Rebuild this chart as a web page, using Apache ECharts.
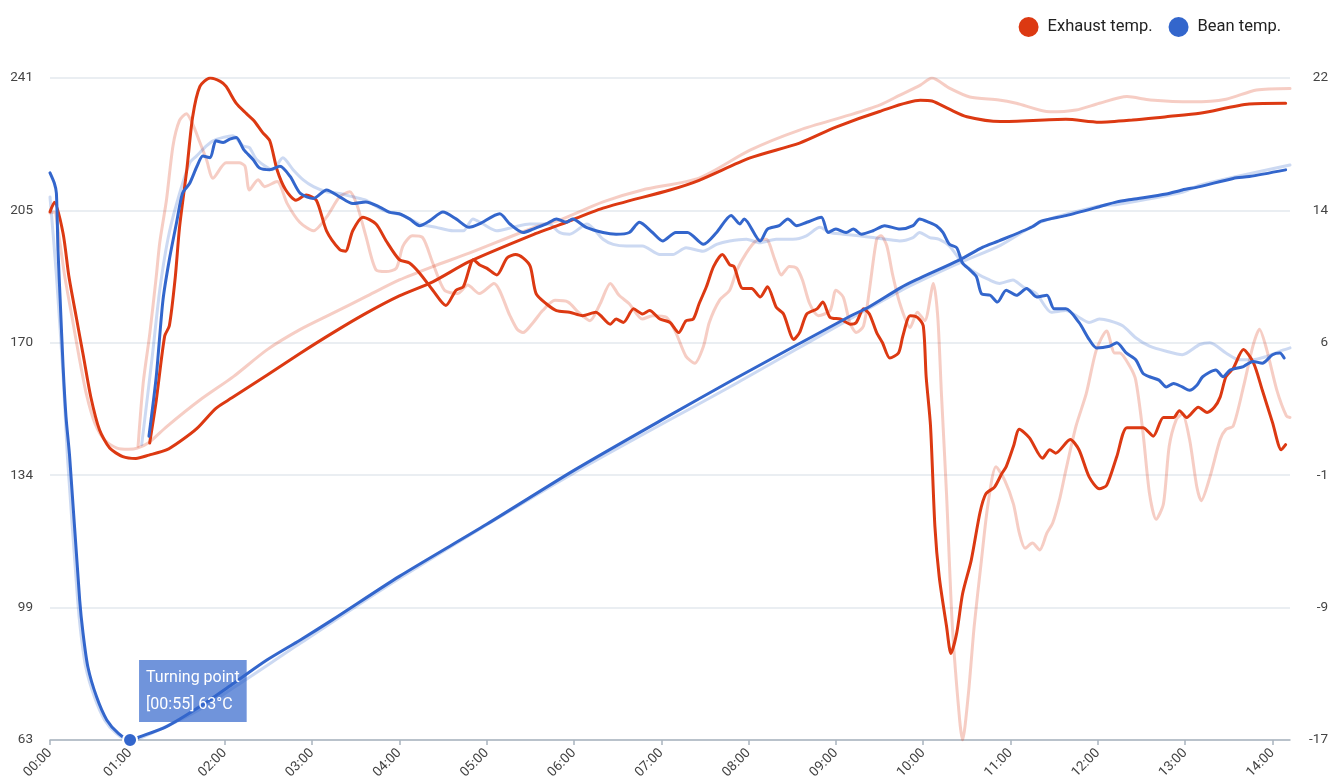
<!DOCTYPE html>
<html>
<head>
<meta charset="utf-8">
<script src="https://cdn.jsdelivr.net/npm/echarts@6/dist/echarts.min.js"></script>
<style>
html,body{margin:0;padding:0;background:#fff;}
#chart{width:1331px;height:783px;}
</style>
</head>
<body>
<div id="chart"></div>
<script>
// ---- data: [seconds, value] ----
const exhaustTemp = [[0,205],[3,207.6],[9,199.2],[13,187.6],[18,176.8],[23,166.1],[28,155.3],[34,146.4],[41,141.5],[50,139.2],[59,138.7],[68,139.6],[80,141],[89,143.2],[101,146.8],[114,152.2],[125,155],[149,161.1],[172,167],[194,172.4],[217,177.7],[240,182.4],[263,186.2],[288,191.6],[334,199.2],[350,201.5],[380,206],[426,210.9],[446,213.5],[481,219.5],[515,223.5],[540,227.8],[570,232],[598,235],[606,234.8],[618,232.6],[630,230.6],[653,229.3],[698,229.9],[721,229.1],[744,229.7],[767,230.6],[790,231.5],[824,234],[849,234.2]];

const beanTemp = [[0,215.5],[3,212.7],[4.4,210],[5.5,194.7],[7,181.3],[9,163.4],[11,149.9],[13.5,139.2],[20.4,100.6],[22.7,91.7],[26,82.7],[32,74.6],[39,68.4],[47,64.8],[55,63],[62,63.9],[80,66.6],[103,72],[126,78.2],[149,84.5],[172,89.9],[194,95.3],[240,107],[300,121],[360,135.5],[420,149],[469,159.8],[549,176.8],[563,179.5],[584,184.5],[595,186.7],[625,192.1],[641,195.5],[652,197.2],[675,201],[681,202.5],[698,204],[721,206.4],[733,207.7],[744,208.4],[767,209.8],[778,210.9],[790,211.8],[813,214],[824,214.5],[849,216.3]];

const exhaustTempRef = [[0,204.7],[3,205],[6,199],[10,188],[15,177],[20,166],[25,156],[31,148],[38,143.5],[46,141.5],[54,141.2],[60,141.5],[68,143],[80,147.2],[103,154.4],[126,160.7],[149,167.9],[172,173.4],[194,177.7],[217,182.2],[240,186.7],[263,190.3],[288,193.9],[334,201],[350,202.8],[380,207.7],[407,210.9],[446,214.1],[481,221.6],[515,227],[549,231],[570,233.7],[584,236.4],[598,239.1],[606,241],[618,238.3],[632,235.9],[652,235.1],[664,234.2],[687,231.9],[705,232.4],[721,234.2],[740,236],[756,235.1],[785,234.6],[808,235.3],[829,237.8],[852,238.2]];

const beanTempRef = [[0,209],[4.4,188],[9,161],[12,139],[19,100.6],[21.2,91.7],[24.5,82.7],[30.5,74.6],[37.5,68.4],[45.5,64.8],[54,63],[62,63.5],[103,71.3],[172,89],[240,106.4],[360,134.8],[472,159],[584,183.7],[625,191.3],[653,196],[681,202.3],[721,206.6],[733,207],[778,210.3],[790,212.2],[852,217.6]];

const exhaustRoR = [[68.5,0.5],[73,3],[78.8,6.8],[82,7.4],[86,10.2],[89,13.2],[94,16.6],[98,19.7],[103,21.5],[110,22],[117,21.8],[121,21.5],[128,20.5],[135,19.9],[140,19.5],[146,18.8],[151,18.3],[156,16.6],[162,15.4],[169,14.8],[176,15.1],[183,14.8],[190,13],[199,11.9],[203,11.8],[208,13],[215,13.8],[224,13.4],[231,12.4],[240,11.3],[247,11.1],[254,10.5],[263,9.5],[272,8.6],[279,9.5],[284,9.7],[291,11.3],[295,11],[300,10.8],[307,10.4],[314,11.4],[320,11.6],[325,11.4],[330,10.9],[334,9.3],[341,8.7],[348,8.3],[357,8.2],[366,8],[375,8.2],[385,7.5],[389,7.8],[394,7.6],[401,8.4],[407,8.1],[412,8.3],[419,7.8],[426,7.6],[432,7],[437,7.7],[442,7.8],[446,8.7],[451,9.7],[456,10.9],[462,11.6],[467,11],[470,10.9],[476,9.6],[482,9.6],[488,9.1],[493,9.7],[499,8.5],[504,8.1],[511,6.6],[515,7],[520,8.1],[527,8.4],[531,8.8],[536,7.9],[543,7.8],[550,7.5],[554,7.6],[559,8.4],[563,8.1],[568,7],[572,6.4],[577,5.5],[583,5.8],[586,6.8],[591,8],[596,7.9],[600,7.4],[602,4.4],[605,1.5],[608,-4.4],[611,-7.4],[616,-10.3],[619,-11.9],[623,-10.7],[627,-8.4],[633,-6.4],[639,-3.6],[643,-2.5],[649,-2.1],[654,-1.3],[657,-0.9],[662,0.3],[666,1.3],[673,0.8],[682,-0.4],[687,0.1],[691,-0.1],[701,0.7],[707,0.1],[714,-1.5],[721,-2.2],[726,-2],[733,-0.3],[740,1.4],[751,1.4],[758,0.9],[765,2],[772,2],[776,2.4],[781,2],[789,2.6],[795,2.3],[800,2.6],[804,3.2],[808,4.4],[813,4.9],[820,6],[827,5.2],[833,3.6],[840,1.7],[846,0.1],[849,0.4]];

const beanRoR = [[68,0.9],[73,4.4],[77.6,8.9],[82,11.3],[87,13.5],[91,15.2],[96,15.8],[101,16.8],[105,17.4],[110,17.3],[114,18.3],[119,18.2],[123.5,18.4],[128,18.5],[133,17.8],[139.5,17.2],[144,16.7],[151,16.6],[158,16.8],[165,16.2],[172,15.2],[181,14.9],[190,15.4],[199,15],[208,14.6],[217,14.7],[226.5,14.4],[233,14.1],[240,14],[247,13.7],[254,13.3],[261,13.6],[270,14.1],[279,13.7],[288,13.2],[295,13.4],[309,14],[316,13.4],[325,12.9],[332,13.1],[341,13.4],[348,13.7],[355,13.5],[359,13.7],[368.5,13.2],[380,12.9],[389,12.8],[398,12.9],[405,13.5],[414,12.9],[421,12.4],[430,12.9],[438,12.9],[449,12.2],[458,12.9],[468,13.9],[474,13.4],[477,13.7],[488,12.4],[493,13.1],[501,13.3],[507,13.7],[513,13.3],[520,13.5],[530,13.8],[534.5,12.9],[540,13.1],[547,12.9],[552,13.1],[557.5,12.8],[565.5,13],[573.5,13.3],[584,13.1],[593,13.3],[597.5,13.7],[604,13.5],[609,13.3],[613.5,12.9],[618,12.2],[623,12],[627,11.1],[632,10.7],[636.5,10.3],[640,9.3],[646,9.2],[651,8.8],[657,9.5],[664,9.2],[671,9.6],[678,9.1],[685,9.2],[690,8.4],[698,8.4],[707,7.6],[714,6.6],[719,6.1],[728,6.2],[733,6.4],[739.5,5.8],[746,5.4],[751,4.6],[755.5,4.4],[762,4.2],[767,3.8],[772,4],[778,3.8],[783,3.6],[788,3.9],[792,4.4],[801,4.8],[806,4.4],[811,4.8],[820,5],[826.5,5.3],[833,5.2],[840,5.7],[845,5.8],[848,5.5]];

const exhaustRoRRef = [[60.5,0.3],[64,4],[68.5,6.9],[73,10.3],[75.4,12.3],[80,14.8],[84.5,18],[89,19.5],[93.7,19.9],[98,19.3],[103,18.2],[107.5,17.2],[112,16.1],[121,17],[130,17],[134,16.8],[137,15.4],[143,16],[147.5,15.6],[156,15.9],[163,14.6],[171.6,13.5],[181,13],[190,13.8],[199,15],[206,15.3],[211,14.5],[217,12.7],[224,10.7],[231,10.6],[238,10.8],[242.5,12.1],[249,12.7],[256,12.6],[263,11.1],[271,9.5],[280,9.3],[287,9.8],[295,9.3],[305,9.9],[316,8],[321,7.2],[325,7],[332,7.6],[338.5,8.3],[347,8.9],[356,8.8],[363,8.2],[371,7.7],[378,8.7],[385,9.9],[391,9.2],[398,8.7],[407,7.8],[414,8],[423.5,7.9],[430,7],[437,5.6],[443,5.2],[449,6.2],[453,7.6],[460,8.9],[467,9.5],[472,10.7],[478.5,11.7],[485,12.4],[492,12.5],[498,11.3],[502.5,10.4],[508,10.9],[513,10.8],[517,10.1],[522,8.7],[528,8],[536,8.3],[540,9.5],[545,9.1],[549.5,7.6],[554,7],[559,7.4],[563,9.5],[568,12.5],[571,12.7],[575,12.1],[579,10.4],[584,8.7],[591,7.3],[596,8.2],[601,7.7],[607,9.9],[610,7.9],[612.5,3.4],[616,-2.5],[620,-10.3],[625,-15.8],[627,-17],[631,-14.3],[635,-10.3],[640,-6.4],[644.5,-3.1],[650,-0.9],[656,-1.7],[662,-3.1],[666,-4.8],[670,-5.7],[675,-5.4],[680,-5.8],[685,-4.8],[689,-4.2],[694,-2.7],[698,-1.1],[705,1.5],[712,3.4],[719,6],[726,7.1],[731.5,5.8],[735,5.8],[742,5],[746,4.2],[751,1.1],[755.5,-2.5],[760,-4],[765,-3.1],[769,0.3],[774,1.9],[778,2.2],[783,0.7],[788,-2.1],[791,-2.9],[797,-1.5],[804,0.7],[808,1.3],[813,1.5],[820,3.8],[826.5,6.2],[831,7.2],[836,6],[843,3.6],[849.5,2.1],[852,2]];

const beanRoRRef = [[63,0.4],[70,5.4],[75.4,9.5],[81,12.5],[87,14.6],[96,17],[100.6,17.4],[107.5,18],[112,18.3],[119,18.5],[125.7,18.6],[132.6,18],[137,17.9],[142,17.2],[153,16.6],[160,17.3],[167,16.6],[174,16],[181,15.6],[190,15.3],[199,15.2],[208,15],[217,14.8],[229,14.2],[242.5,13.9],[254,13.4],[265.5,13.2],[277,13],[284,13],[290.6,13.7],[297.5,13.4],[307,13],[318,13.2],[329.6,13.4],[343,13.4],[350,12.9],[357,12.8],[369,13.4],[380,12.5],[387,12.2],[396,12.1],[407,12.1],[419,11.6],[428,11.6],[437,12],[448.6,11.8],[458,12.2],[467,12.4],[478.5,12.5],[487.6,12.3],[499,12.5],[510.5,12.5],[519.7,12.7],[529,13.2],[535.7,12.9],[545,12.8],[556,12.7],[565.5,12.6],[574.6,12.5],[583.7,12.4],[593,12.6],[597.5,12.9],[604.4,12.6],[611,12.5],[618,12.1],[627,11.1],[636.5,10.5],[645.6,10.1],[652.5,9.9],[661.6,10.1],[668.5,9.7],[677.7,9.3],[688,8.2],[698,8.3],[707,7.9],[714,7.6],[721,7.8],[728,7.7],[737,7.4],[746,6.7],[755.5,6.2],[767,5.9],[778,5.7],[790,6.3],[797,6.4],[808,5.8],[817,5.4],[826.5,5.4],[836,5.6],[845,5.9],[852,6.1]];

const xTickSeconds = [0,55,120,180,240,300,360,420,480,540,600,660,720,780,840];
const xTickLabels = ['00:00','01:00','02:00','03:00','04:00','05:00','06:00','07:00','08:00','09:00','10:00','11:00','12:00','13:00','14:00'];
const legendNames = ['Exhaust temp.','Bean temp.'];
const turningPoint = [55, 63];
const turningPointText = ['Turning point','[00:55] 63°C'];

// ---- chart ----
const RED = '#dc3912', BLUE = '#3366cc';
const FONT = 'Roboto';

function lineSeries(name, data, color, yAxisIndex, faded, z) {
  return {
    name: name, type: 'line', data: data, yAxisIndex: yAxisIndex,
    showSymbol: false, symbol: 'none', smooth: 0.25,
    color: color, z: z,
    lineStyle: { color: color, width: 3, opacity: faded ? 0.25 : 1, join: 'round', cap: 'round' },
    emphasis: { disabled: true }
  };
}

const chart = echarts.init(document.getElementById('chart'), null, { renderer: 'canvas' });

const beanSeries = lineSeries('Bean temp.', beanTemp, BLUE, 0, false, 8);
beanSeries.markPoint = {
  z: 20,
  symbol: 'circle', symbolSize: 14,
  itemStyle: { color: BLUE, borderColor: '#fff', borderWidth: 2 },
  label: {
    show: true, position: [17, -72],
    formatter: turningPointText.join('\n'),
    color: '#fff', fontSize: 16, fontFamily: FONT, lineHeight: 27,
    backgroundColor: 'rgba(51,102,204,0.7)', padding: [4, 7, 4, 7],
    align: 'left', verticalAlign: 'top'
  },
  emphasis: { disabled: true },
  data: [{ coord: turningPoint }]
};

chart.setOption({
  animation: false,
  textStyle: { fontFamily: FONT },
  grid: { left: 50, right: 41, top: 78, bottom: 43, containLabel: false },
  legend: {
    data: legendNames.map(n => ({ name: n, icon: 'circle' })),
    right: 45, top: 12, itemWidth: 20, itemHeight: 20, itemGap: 16,
    textStyle: { fontSize: 16.5, color: '#222', fontFamily: FONT, padding: [0, 0, 0, 4] },
    selectedMode: false
  },
  xAxis: {
    type: 'value', min: 0, max: 852,
    axisLine: { show: true, onZero: false, lineStyle: { color: '#a9b4bf', width: 1.5 } },
    axisTick: { show: true, customValues: xTickSeconds, length: 5, lineStyle: { color: '#a9b4bf', width: 1.5 } },
    axisLabel: {
      customValues: xTickSeconds, rotate: 45, margin: 11,
      color: '#444', fontSize: 13.5, fontFamily: FONT,
      formatter: v => { const i = xTickSeconds.indexOf(v); return i >= 0 ? xTickLabels[i] : ''; }
    },
    splitLine: { show: false }
  },
  yAxis: [
    {
      type: 'value', min: 63, max: 241, interval: 35.6, position: 'left',
      axisLine: { show: false }, axisTick: { show: false },
      axisLabel: { formatter: v => String(Math.round(v)), color: '#444', fontSize: 13.5, fontFamily: FONT, margin: 17 },
      splitLine: { show: true, lineStyle: { color: '#e3e8ee', width: 1.5 } }
    },
    {
      type: 'value', min: -17, max: 22, interval: 7.8, position: 'right',
      axisLine: { show: false }, axisTick: { show: false },
      axisLabel: { formatter: v => String(Math.round(v)), color: '#444', fontSize: 13.5, fontFamily: FONT, margin: 38, align: 'right' },
      splitLine: { show: false }
    }
  ],
  series: [
    lineSeries('Exhaust temp. (reference)', exhaustTempRef, RED, 0, true, 1),
    lineSeries('Bean temp. (reference)', beanTempRef, BLUE, 0, true, 1),
    lineSeries('Exhaust RoR (reference)', exhaustRoRRef, RED, 1, true, 1),
    lineSeries('Bean RoR (reference)', beanRoRRef, BLUE, 1, true, 1),
    lineSeries('Exhaust temp.', exhaustTemp, RED, 0, false, 5),
    lineSeries('Exhaust temp.', exhaustRoR, RED, 1, false, 5),
    lineSeries('Bean temp.', beanRoR, BLUE, 1, false, 6),
    beanSeries
  ]
});
</script>
</body>
</html>
